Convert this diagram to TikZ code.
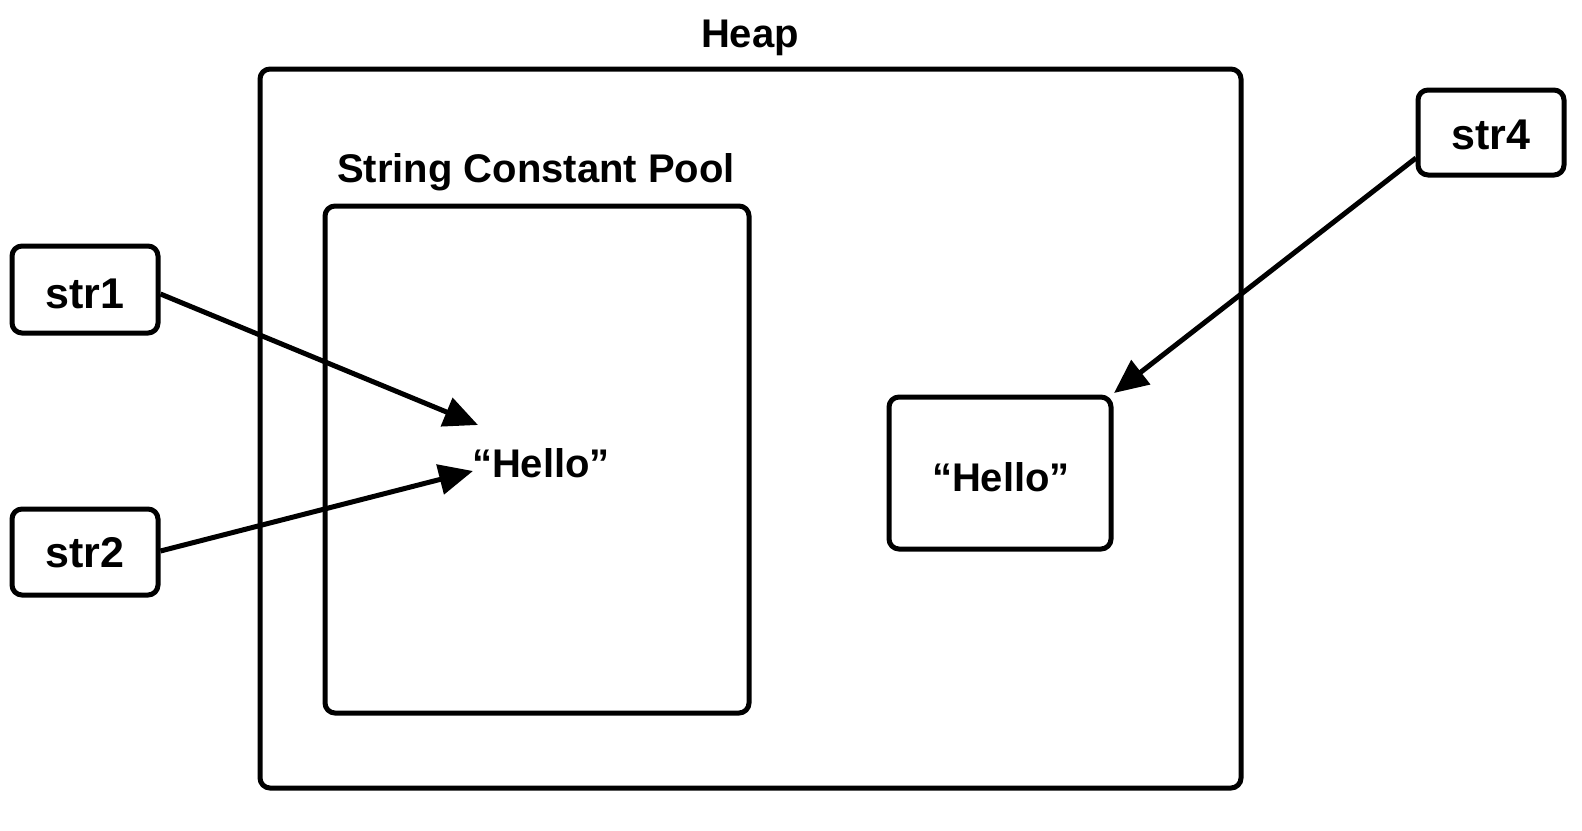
\documentclass[tikz,border=0pt]{standalone}
\usepackage{fontspec}
\setmainfont{Liberation Sans}
\usetikzlibrary{arrows.meta}
\begin{document}
\begin{tikzpicture}[x=1pt,y=-1pt,
  box/.style={draw,line width=5pt,rounded corners=10pt},
  lbl/.style={font=\fontsize{40}{44}\selectfont\bfseries,inner sep=0pt},
  slbl/.style={font=\fontsize{43}{46}\selectfont\bfseries,inner sep=0pt},
  arr/.style={line width=5pt,-{Triangle[length=34pt,width=30pt]}}]
\useasboundingbox (0,0) rectangle (1582,830);
% heap
\draw[box] (260,69) rectangle (1241,788);
\node[lbl] (heaplbl) at (750,38) {Heap};
% pool
\draw[box] (325,206) rectangle (749,713);
\node[lbl] (poollbl) at (536,172) {String Constant Pool};
\node[lbl] (hello1) at (541,463) {“Hello”};
% right hello
\node[box,minimum width=222pt,minimum height=152pt] (hello2) at (1000,473) {};
\node[lbl] at (1001,477) {“Hello”};
% str nodes
\node[box,minimum width=146pt,minimum height=87pt] (s1) at (85,289.5) {};
\node[slbl] at (85,294) {str1};
\node[box,minimum width=146pt,minimum height=86pt] (s2) at (85,552) {};
\node[slbl] at (85,553) {str2};
\node[box,minimum width=146pt,minimum height=85pt] (s4) at (1491,132.5) {};
\node[slbl] at (1491,135) {str4};
% arrows
\coordinate (t1) at (478,425);
\coordinate (t2) at (473,471);
\coordinate (t4) at (1114,393);
\draw[arr] (s1.east |- 0,294) -- (t1);
\draw[arr] (s2.east |- 0,551) -- (t2);
\draw[arr] (1416,158) -- (t4);
\end{tikzpicture}
\end{document}
